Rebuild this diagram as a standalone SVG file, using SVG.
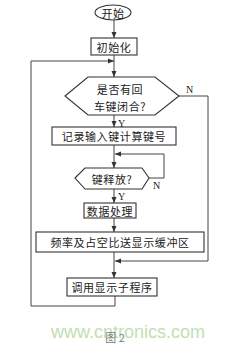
<svg xmlns="http://www.w3.org/2000/svg" width="231" height="347" viewBox="0 0 231 347">
<defs>
<marker id="ah" viewBox="0 0 6 6" refX="6" refY="3" markerWidth="6" markerHeight="6" orient="auto" markerUnits="userSpaceOnUse">
<path d="M0,0.5 L6,3 L0,5.5 Z" fill="#333"/>
</marker>
<style>
.s{fill:#fff;stroke:#333;stroke-width:1.1}
.t{font-family:"Noto Sans CJK SC","Noto Sans CJK JP",sans-serif;font-size:11px;fill:#222;text-anchor:middle;dominant-baseline:central;letter-spacing:0.6px}
.c{fill:none;stroke:#444;stroke-width:1}
.l{font-family:"Liberation Serif",serif;font-size:10px;fill:#222}
</style>
</defs>
<rect width="231" height="347" fill="#fff"/>
<g id="connectors">
<path class="c" d="M114,20 V38" marker-end="url(#ah)"/>
<path class="c" d="M114,55 V77" marker-end="url(#ah)"/>
<path class="c" d="M115,296 V306 H31 V61 H114" marker-end="url(#ah)"/>
<path class="c" d="M114,115 V127" marker-end="url(#ah)"/>
<path class="c" d="M179,96 H208 V261 H115" marker-end="url(#ah)"/>
<path class="c" d="M114,145 V168" marker-end="url(#ah)"/>
<path class="c" d="M149,178 H164 V154 H115" marker-end="url(#ah)"/>
<path class="c" d="M114,189 V203" marker-end="url(#ah)"/>
<path class="c" d="M114,218 V232" marker-end="url(#ah)"/>
<path class="c" d="M114,252 V278" marker-end="url(#ah)"/>
<text class="l" x="118" y="127">Y</text>
<text class="l" x="186" y="93">N</text>
<text class="l" x="153" y="189">N</text>
<text class="l" x="118" y="200">Y</text>
</g>
<g id="start">
<ellipse class="s" cx="113" cy="12.5" rx="18" ry="7.5"/>
<text class="t" x="113" y="12.5">开始</text>
</g>
<g id="init">
<rect class="s" x="91" y="38" width="46" height="17"/>
<text class="t" x="114" y="46.5">初始化</text>
</g>
<g id="check-enter">
<polygon class="s" points="65,96 88,77 155,77 179,96 155,115 88,115"/>
<text class="t" x="120" y="89">是否有回</text>
<text class="t" x="120" y="106">车键闭合?</text>
</g>
<g id="record">
<rect class="s" x="52" y="127" width="124" height="18"/>
<text class="t" x="114" y="136">记录输入键计算键号</text>
</g>
<g id="release">
<polygon class="s" points="75,178 85,168 142,168 149,178 142,189 85,189"/>
<text class="t" x="112" y="178.5">键释放?</text>
</g>
<g id="process">
<rect class="s" x="84" y="203" width="52" height="15"/>
<text class="t" x="110" y="210.5">数据处理</text>
</g>
<g id="buffer">
<rect class="s" x="36" y="232" width="168" height="20"/>
<text class="t" x="120" y="242">频率及占空比送显示缓冲区</text>
</g>
<g id="display">
<rect class="s" x="67" y="278" width="90" height="18"/>
<text class="t" x="112" y="287">调用显示子程序</text>
</g>
<text x="128" y="338" font-family="Liberation Sans, sans-serif" font-size="18" fill="#bfe0b0" text-anchor="middle">www.cntronics.com</text>
<text x="115" y="337" font-family="Noto Sans CJK SC, sans-serif" font-size="11" fill="#777" text-anchor="middle" dominant-baseline="central">图 2</text>
</svg>
